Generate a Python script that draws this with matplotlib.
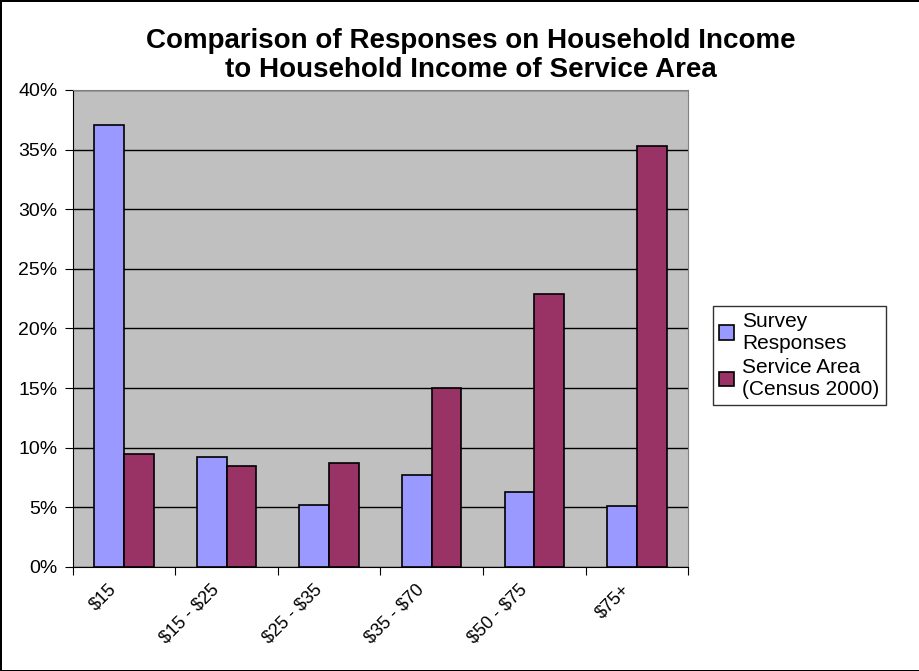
import numpy as np
import matplotlib.pyplot as plt
import matplotlib.transforms as mtransforms
from matplotlib.ticker import PercentFormatter

plt.rcParams['font.family'] = ['Liberation Sans', 'DejaVu Sans']
plt.rcParams['text.parse_math'] = False

# datos
categorias = ['$15', '$15 - $25', '$25 - $35', '$35 - $70', '$50 - $75', '$75+']
survey = [37.1, 9.25, 5.2, 7.75, 6.3, 5.15]
census = [9.5, 8.45, 8.75, 15.0, 22.9, 35.3]
serie_nomes = ['Survey\nResponses', 'Service Area\n(Census 2000)']

fig = plt.figure(figsize=(9.2, 6.71), dpi=100)
fig.patch.set_facecolor('white')
fig.patch.set_edgecolor('black')
fig.patch.set_linewidth(2)

ax = fig.add_axes([0.079, 0.155, 0.669, 0.711])
ax.set_facecolor('#C0C0C0')

x = np.arange(len(categorias))
w = 0.29
b1 = ax.bar(x - w/2, survey, w, color='#9999FF', edgecolor='black', linewidth=1.2,
            label=serie_nomes[0], zorder=3)
b2 = ax.bar(x + w/2, census, w, color='#993366', edgecolor='black', linewidth=1.2,
            label=serie_nomes[1], zorder=3)

ax.set_ylim(0, 40)
ax.set_xlim(-0.5, len(categorias) - 0.5)
ax.set_yticks(np.arange(0, 41, 5))
ax.yaxis.set_major_formatter(PercentFormatter(decimals=0))
ax.grid(axis='y', color='black', linewidth=1, zorder=1)

# ticks nas fronteiras das categorias, rotulos no centro
ax.set_xticks(np.arange(-0.5, len(categorias), 1))
ax.set_xticklabels([])
ax.set_xticks(x, minor=True)
ax.set_xticklabels(categorias, minor=True, rotation=45, ha='right',
                   rotation_mode='anchor', fontsize=13)
ax.tick_params(axis='x', which='minor', length=0, pad=10)
ax.tick_params(axis='x', which='major', length=6, direction='out')
ax.tick_params(axis='y', length=6, direction='out', labelsize=14, pad=5)

# desloca os rotulos um pouco para a esquerda, como no Excel
desloc = mtransforms.ScaledTranslation(-16/100, 0, fig.dpi_scale_trans)
for lbl in ax.get_xticklabels(minor=True):
    lbl.set_transform(lbl.get_transform() + desloc)

for s in ['top', 'right']:
    ax.spines[s].set_color('#808080')
for s in ['left', 'bottom']:
    ax.spines[s].set_color('black')

fig.text(0.512, 0.917, 'Comparison of Responses on Household Income\nto Household Income of Service Area',
         ha='center', va='center', fontsize=20, fontweight='bold', linespacing=1.15)

fig.legend(handles=[b1, b2], loc='center left', bbox_to_anchor=(0.775, 0.47),
           frameon=True, fancybox=False, edgecolor='black', fontsize=15,
           handlelength=0.7, handleheight=0.7, handletextpad=0.4,
           borderpad=0.3, labelspacing=0.25, borderaxespad=0)

fig.savefig('out.png', dpi=100)
